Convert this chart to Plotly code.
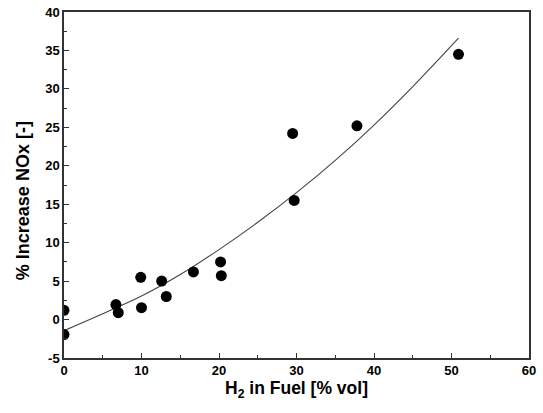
import plotly.graph_objects as go

# Measured data points
h2_pct = [0.0, 0.0, 6.7, 7.0, 9.9, 10.0, 12.6, 13.2, 16.7, 20.2, 20.3, 29.5, 29.7, 37.8, 50.9]
nox_increase = [1.2, -1.95, 1.95, 0.9, 5.5, 1.55, 5.0, 3.0, 6.2, 7.5, 5.7, 24.2, 15.5, 25.2, 34.5]

# Fitted trend curve
fit_x = [0, 5, 10, 15, 20, 25, 30, 35, 40, 45, 50.9]
fit_y = [-1.45, 0.75, 3.05, 5.85, 9.1, 12.65, 16.5, 20.7, 25.3, 30.3, 36.6]

x_ticks = [0, 10, 20, 30, 40, 50, 60]
y_ticks = [-5, 0, 5, 10, 15, 20, 25, 30, 35, 40]

FONT = "Liberation Sans, Arial, sans-serif"

fig = go.Figure()
fig.add_trace(go.Scatter(
    x=fit_x, y=fit_y, mode="lines", line=dict(color="#444444", width=1.1, shape="spline", smoothing=1.0),
    hoverinfo="skip", showlegend=False))
fig.add_trace(go.Scatter(
    x=h2_pct, y=nox_increase, mode="markers",
    marker=dict(color="black", size=11, line=dict(width=0)), showlegend=False))

axis_common = dict(
    showgrid=False, zeroline=False, showline=True, linecolor="#333333", linewidth=1.5,
    mirror=True, ticks="inside", ticklen=5, tickwidth=1.2, tickcolor="#333333",
    tickfont=dict(family=FONT, size=13, color="black"), automargin=False,
    ticklabeloverflow="allow",
)

fig.update_xaxes(
    range=[0, 60], tickvals=x_ticks, ticktext=[f"<b>{v}</b>" for v in x_ticks],
    minor=dict(dtick=5, tick0=0, ticks="inside", ticklen=3, tickcolor="#333333", tickwidth=1.2),
    title=dict(text="<b>H<sub>2</sub> in Fuel [% vol]</b>",
               font=dict(family=FONT, size=17.5, color="black"), standoff=4),
    **axis_common)
fig.update_yaxes(
    range=[-5, 40], tickvals=y_ticks, ticktext=[f"<b>{v}</b>" for v in y_ticks],
    minor=dict(dtick=2.5, tick0=0, ticks="inside", ticklen=3, tickcolor="#333333", tickwidth=1.2),
    **axis_common)

# y-axis title (sits slightly below the plot's vertical centre in the reference)
fig.add_annotation(
    text="<b>% Increase NOx [-]</b>", textangle=-90,
    xref="paper", yref="paper", x=-0.089, y=0.455,
    xanchor="center", yanchor="middle", showarrow=False,
    font=dict(family=FONT, size=18, color="black"))

fig.update_layout(
    width=543, height=413,
    margin=dict(l=64, r=14, t=12, b=55),
    paper_bgcolor="white", plot_bgcolor="white",
)

# remove the browser's default 8px body margin so the figure sits at the page origin
fig.write_html("out.html", config={"displayModeBar": False},
               post_script="document.body.style.margin='0';")
